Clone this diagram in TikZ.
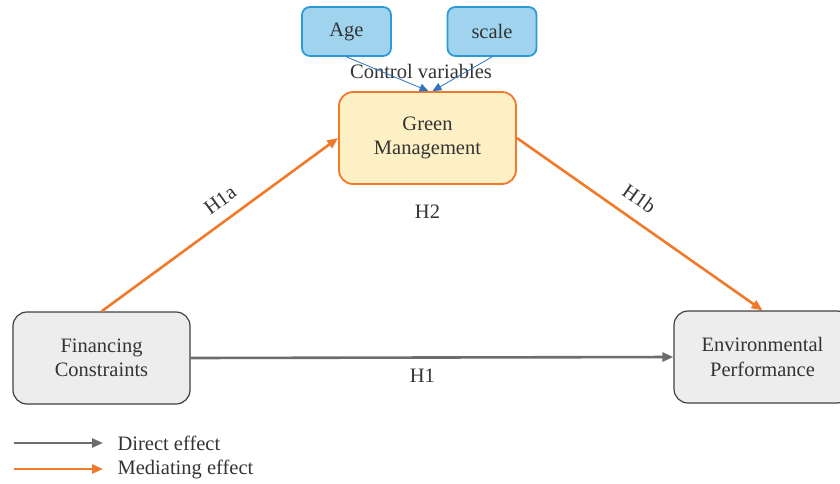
\documentclass[tikz,border=0pt]{standalone}
\usepackage{fontspec}
\setmainfont{Liberation Serif}
\usetikzlibrary{arrows.meta, positioning, calc}
\definecolor{TxtGray}{RGB}{51,51,51}
\definecolor{BoxGray}{RGB}{237,237,237}
\definecolor{LineGray}{RGB}{109,109,109}
\definecolor{AccOrange}{RGB}{240,122,42}
\definecolor{MgmtFill}{RGB}{253,240,196}
\definecolor{CtrlFill}{RGB}{160,212,238}
\definecolor{CtrlBlue}{RGB}{43,155,216}
\definecolor{ArrBlue}{RGB}{46,117,192}

\begin{document}
\begin{tikzpicture}[x=1pt, y=-1pt,
    font=\fontsize{20.5}{24.5}\selectfont, text=TxtGray,
    varbox/.style={draw=black!75, fill=BoxGray, line width=1.2pt, rounded corners=14pt,
      minimum width=177pt, minimum height=92pt, align=center},
    ctrlbox/.style={draw=CtrlBlue, fill=CtrlFill, line width=1.8pt, rounded corners=8pt,
      minimum width=89pt, minimum height=49pt},
    direct/.style={draw=LineGray, line width=2.6pt, -{Triangle[length=11pt, width=9pt]}},
    mediate/.style={draw=AccOrange, line width=2.6pt, -{Triangle[length=11pt, width=9pt]}},
    ctrl/.style={draw=ArrBlue, line width=0.8pt, -{Triangle[length=9pt, width=8pt]}}]
  \useasboundingbox (0,0) rectangle (840,483);

  % boxes
  \node[ctrlbox] (age) at (346.5,31.5) {Age};
  \node[ctrlbox] (sc) at (492,31.5) {scale};
  \node (cv) at (421,71) {Control variables};
  \node[varbox, draw=AccOrange, fill=MgmtFill, line width=1.8pt] (gm) at (427.5,138) {Green\\Management};
  \node[varbox] (fc) at (101.5,358) {Financing\\Constraints};
  \node[varbox] (ep) at (762.5,357) {Environmental\\Performance};

  % control variables
  \draw[ctrl] (age.south) -- ($(gm.north)+(1,0)$);
  \draw[ctrl] (sc.south) -- ($(gm.north)+(5,0)$);

  % hypotheses
  \draw[mediate] (fc.north) -- node[pos=0.55, sloped, above=8pt] {H1a} (gm.west);
  \draw[mediate] (gm.east) -- node[pos=0.45, sloped, above=9pt] {H1b} (ep.north);
  \draw[direct] (fc.east) -- node[pos=0.48, below=7pt] {H1} (ep.west);
  \node[below=16pt of gm] (h2) {H2};

  % legend
  \coordinate (l1) at (14,443);
  \coordinate (l2) at (14,469);
  \draw[direct] (l1) -- ++(89,0) node[right=10pt] (ld) {Direct effect};
  \draw[mediate] (l2) -- ++(89,0) node[right=10pt] (lm) {Mediating effect};
\end{tikzpicture}
\end{document}
